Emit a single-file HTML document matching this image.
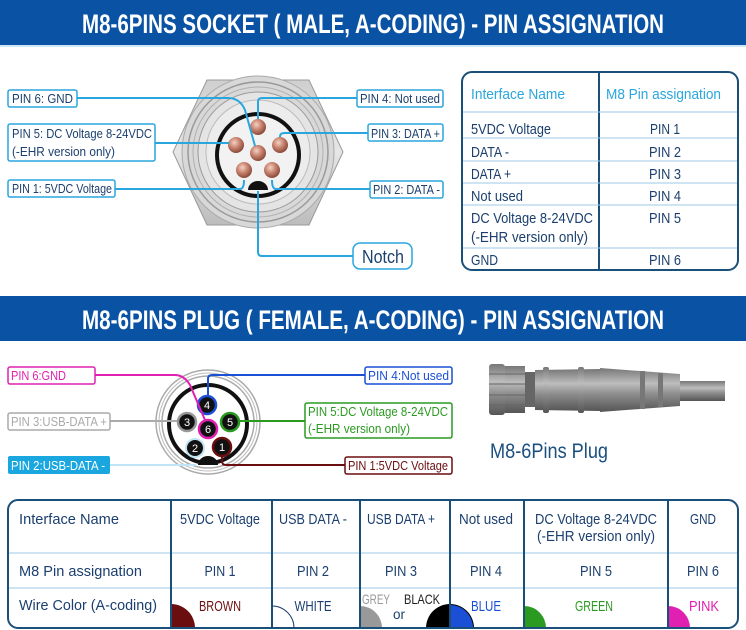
<!DOCTYPE html>
<html><head><meta charset="utf-8"><style>
html,body{margin:0;padding:0;background:#fff;}
svg{display:block;}
text{font-family:"Liberation Sans Narrow","Liberation Sans",sans-serif;}
</style></head><body>
<svg width="746" height="630" viewBox="0 0 746 630" xmlns="http://www.w3.org/2000/svg">
<defs>
<radialGradient id="pin" cx="40%" cy="35%" r="65%"><stop offset="0" stop-color="#f4d2c4"/><stop offset="0.5" stop-color="#c98470"/><stop offset="1" stop-color="#8a4a3a"/></radialGradient>
<linearGradient id="hexg" x1="0" y1="0" x2="0" y2="1"><stop offset="0" stop-color="#cfcfcf"/><stop offset="0.5" stop-color="#e6e6e6"/><stop offset="1" stop-color="#bcbcbc"/></linearGradient>
<linearGradient id="plg" x1="0" y1="0" x2="0" y2="1"><stop offset="0" stop-color="#777"/><stop offset="0.35" stop-color="#bdbdbd"/><stop offset="0.6" stop-color="#8c8c8c"/><stop offset="1" stop-color="#555"/></linearGradient>
<clipPath id="bt"><rect x="8" y="500" width="730" height="128" rx="10"/></clipPath>
<clipPath id="row3"><rect x="0" y="588" width="746" height="40"/></clipPath>
</defs>

<rect x="0" y="0" width="746" height="45" fill="#0a52a3"/>
<rect x="0" y="45" width="746" height="2" fill="#cfe6f5"/>
<text x="373" y="33" fill="#fff" font-size="27" font-weight="bold" text-anchor="middle" textLength="582" lengthAdjust="spacingAndGlyphs">M8-6PINS SOCKET ( MALE, A-CODING) - PIN ASSIGNATION</text>

<polygon points="207,80 309,80 343,152 309,225 207,225 173,152" fill="url(#hexg)" stroke="#999" stroke-width="1"/>
<circle cx="258" cy="152" r="76" fill="#d8d8d8" stroke="#aaa"/>
<circle cx="258" cy="152" r="70" fill="none" stroke="#9a9a9a" stroke-width="1.5"/>
<circle cx="258" cy="152" r="65" fill="none" stroke="#b0b0b0" stroke-width="1"/>
<circle cx="258" cy="152" r="60" fill="#e4e4e4" stroke="#999" stroke-width="1"/>
<circle cx="258" cy="152" r="52" fill="#ececec" stroke="#bbb"/>
<circle cx="258" cy="155" r="41" fill="#f2f2f2" stroke="#111" stroke-width="4"/>
<path d="M248,190 A10,9 0 0 1 268,190 Z" fill="#111"/>
<circle cx="258" cy="127" r="8" fill="url(#pin)"/>
<circle cx="236" cy="145" r="8" fill="url(#pin)"/>
<circle cx="280" cy="145" r="8" fill="url(#pin)"/>
<circle cx="258" cy="153" r="8" fill="url(#pin)"/>
<circle cx="244" cy="170" r="8" fill="url(#pin)"/>
<circle cx="272" cy="170" r="8" fill="url(#pin)"/>

<g fill="none" stroke="#2aa6de" stroke-width="2">
<path d="M77,98 H228 Q240,98 245,110 L255,146"/>
<path d="M155,143 H229"/>
<path d="M115,189 H240 Q244,189 244,180"/>
<path d="M357,98 H262 Q258,98 258,102 V119"/>
<path d="M368,133 H284 Q280,133 280,137"/>
<path d="M370,189 H276 Q272,189 272,180"/>
<path d="M353,256 H262 Q258,256 258,252 V191"/>
</g>
<g fill="#fff" stroke="#2aa6de" stroke-width="1.5">
<rect x="8" y="90" width="69" height="17" rx="2"/>
<rect x="8" y="124" width="147" height="37" rx="2"/>
<rect x="8" y="180" width="107" height="17" rx="2"/>
<rect x="357" y="90" width="86" height="17" rx="2"/>
<rect x="368" y="124" width="75" height="17" rx="2"/>
<rect x="370" y="181" width="73" height="17" rx="2"/>
<rect x="353" y="243" width="59" height="26" rx="7"/>
</g>
<g fill="#1b3f6e" font-size="13">
<text x="12" y="103" textLength="61" lengthAdjust="spacingAndGlyphs">PIN 6: GND</text>
<text x="12" y="138" textLength="140" lengthAdjust="spacingAndGlyphs">PIN 5: DC Voltage 8-24VDC</text>
<text x="12" y="156" textLength="103" lengthAdjust="spacingAndGlyphs">(-EHR version only)</text>
<text x="12" y="193" textLength="100" lengthAdjust="spacingAndGlyphs">PIN 1: 5VDC Voltage</text>
<text x="360" y="103" textLength="80" lengthAdjust="spacingAndGlyphs">PIN 4: Not used</text>
<text x="371" y="138" textLength="69" lengthAdjust="spacingAndGlyphs">PIN 3: DATA +</text>
<text x="373" y="194" textLength="67" lengthAdjust="spacingAndGlyphs">PIN 2: DATA -</text>
<text x="362" y="263" font-size="18" textLength="42" lengthAdjust="spacingAndGlyphs">Notch</text>
</g>

<rect x="462" y="72" width="276" height="198" rx="10" fill="#fff" stroke="#1a4f7a" stroke-width="2"/>
<line x1="599" y1="72" x2="599" y2="270" stroke="#1a4f7a" stroke-width="2"/>
<g stroke="#9cc8e6" stroke-width="1">
<line x1="463" y1="112" x2="737" y2="112"/>
<line x1="463" y1="138" x2="737" y2="138"/>
<line x1="463" y1="161" x2="737" y2="161"/>
<line x1="463" y1="183" x2="737" y2="183"/>
<line x1="463" y1="205" x2="737" y2="205"/>
<line x1="463" y1="248" x2="737" y2="248"/>
</g>
<g font-size="15" fill="#2aa6de">
<text x="471" y="99" textLength="94" lengthAdjust="spacingAndGlyphs">Interface Name</text>
<text x="606" y="99" textLength="115" lengthAdjust="spacingAndGlyphs">M8 Pin assignation</text>
</g>
<g font-size="15" fill="#1b3f6e">
<text x="471" y="134" textLength="80" lengthAdjust="spacingAndGlyphs">5VDC Voltage</text>
<text x="471" y="157" textLength="38" lengthAdjust="spacingAndGlyphs">DATA -</text>
<text x="471" y="179" textLength="40" lengthAdjust="spacingAndGlyphs">DATA +</text>
<text x="471" y="201" textLength="52" lengthAdjust="spacingAndGlyphs">Not used</text>
<text x="471" y="223" textLength="122" lengthAdjust="spacingAndGlyphs">DC Voltage 8-24VDC</text>
<text x="471" y="242" textLength="117" lengthAdjust="spacingAndGlyphs">(-EHR version only)</text>
<text x="471" y="265" textLength="27" lengthAdjust="spacingAndGlyphs">GND</text>
</g>
<g font-size="15" fill="#1b3f6e" text-anchor="middle">
<text x="665" y="134" textLength="30" lengthAdjust="spacingAndGlyphs">PIN 1</text>
<text x="665" y="157" textLength="32" lengthAdjust="spacingAndGlyphs">PIN 2</text>
<text x="665" y="179" textLength="32" lengthAdjust="spacingAndGlyphs">PIN 3</text>
<text x="665" y="201" textLength="32" lengthAdjust="spacingAndGlyphs">PIN 4</text>
<text x="665" y="223" textLength="32" lengthAdjust="spacingAndGlyphs">PIN 5</text>
<text x="665" y="265" textLength="32" lengthAdjust="spacingAndGlyphs">PIN 6</text>
</g>

<rect x="0" y="296" width="746" height="45" fill="#0a52a3"/>
<text x="373" y="329" fill="#fff" font-size="27" font-weight="bold" text-anchor="middle" textLength="582" lengthAdjust="spacingAndGlyphs">M8-6PINS PLUG ( FEMALE, A-CODING) - PIN ASSIGNATION</text>

<circle cx="208" cy="422" r="52" fill="#fff" stroke="#aaa" stroke-width="1.5"/>
<circle cx="208" cy="422" r="49" fill="none" stroke="#bbb" stroke-width="1"/>
<circle cx="208" cy="422" r="46" fill="none" stroke="#aaa" stroke-width="1.5"/>
<circle cx="208" cy="424" r="39" fill="#fff" stroke="#111" stroke-width="4"/>
<path d="M198,465 A10,9 0 0 1 218,465 Z" fill="#111"/>
<g font-size="11" fill="#fff" text-anchor="middle">
<circle cx="207" cy="405" r="9" fill="#111" stroke="#1a4fd6" stroke-width="2.5"/><text x="207" y="409">4</text>
<circle cx="187" cy="422" r="9" fill="#111" stroke="#999" stroke-width="2.5"/><text x="187" y="426">3</text>
<circle cx="208" cy="429" r="9" fill="#111" stroke="#e020b0" stroke-width="2.5"/><text x="208" y="433">6</text>
<circle cx="230" cy="422" r="9" fill="#111" stroke="#2a9a20" stroke-width="2.5"/><text x="230" y="426">5</text>
<circle cx="195" cy="448" r="9" fill="#111" stroke="#bfe4f5" stroke-width="2"/><text x="195" y="452">2</text>
<circle cx="222" cy="447" r="9" fill="#111" stroke="#6b0e10" stroke-width="2.5"/><text x="222" y="451">1</text>
</g>
<g fill="none" stroke-width="2">
<path d="M95,375 H175 Q184,375 190,385 L205,420" stroke="#e020b0"/>
<path d="M365,375 H212 Q208,375 208,379 V395" stroke="#1a4fd6"/>
<path d="M110,421 H177" stroke="#aaa"/>
<path d="M305,421 H240" stroke="#2a9a20"/>
<path d="M110,465 H196" stroke="#bfe4f5"/>
<path d="M345,465 H226 Q222,465 222,461 V456" stroke="#6b0e10"/>
</g>
<rect x="8" y="367" width="87" height="17" rx="2" fill="#fff" stroke="#e020b0" stroke-width="1.5"/>
<text x="11" y="380" font-size="13" fill="#e020b0" textLength="55" lengthAdjust="spacingAndGlyphs">PIN 6:GND</text>
<rect x="365" y="367" width="87" height="17" rx="2" fill="#fff" stroke="#1a4fd6" stroke-width="1.5"/>
<text x="368" y="380" font-size="13" fill="#1a4fd6" textLength="81" lengthAdjust="spacingAndGlyphs">PIN 4:Not used</text>
<rect x="8" y="413" width="102" height="17" rx="2" fill="#fff" stroke="#aaa" stroke-width="1.5"/>
<text x="11" y="426" font-size="13" fill="#aaa" textLength="96" lengthAdjust="spacingAndGlyphs">PIN 3:USB-DATA +</text>
<rect x="305" y="403" width="147" height="35" rx="2" fill="#fff" stroke="#2a9a20" stroke-width="1.5"/>
<text x="308" y="416" font-size="13" fill="#2a9a20" textLength="140" lengthAdjust="spacingAndGlyphs">PIN 5:DC Voltage 8-24VDC</text>
<text x="308" y="433" font-size="13" fill="#2a9a20" textLength="102" lengthAdjust="spacingAndGlyphs">(-EHR version only)</text>
<rect x="8" y="456" width="102" height="18" rx="2" fill="#1aa7e0"/>
<text x="11" y="470" font-size="13" fill="#fff" textLength="94" lengthAdjust="spacingAndGlyphs">PIN 2:USB-DATA -</text>
<rect x="345" y="457" width="107" height="17" rx="2" fill="#fff" stroke="#6b0e10" stroke-width="1.5"/>
<text x="348" y="470" font-size="13" fill="#6b0e10" textLength="100" lengthAdjust="spacingAndGlyphs">PIN 1:5VDC Voltage</text>

<g>
<rect x="489" y="364" width="16" height="51" rx="3" fill="url(#plg)"/>
<rect x="505" y="366" width="20" height="47" fill="url(#plg)"/>
<g stroke="#666" stroke-width="1"><line x1="489" y1="374" x2="525" y2="374"/><line x1="489" y1="384" x2="525" y2="384"/><line x1="489" y1="395" x2="525" y2="395"/><line x1="489" y1="405" x2="525" y2="405"/></g>
<rect x="525" y="372" width="10" height="35" fill="#666"/>
<polygon points="535,370 600,369 600,411 535,410" fill="url(#plg)"/>
<rect x="543" y="367" width="6" height="46" rx="2" fill="url(#plg)"/>
<rect x="578" y="367" width="6" height="46" rx="2" fill="url(#plg)"/>
<polygon points="600,368 640,371 680,374 680,406 640,409 600,412" fill="url(#plg)"/>
<rect x="640" y="371" width="5" height="38" fill="#777"/>
<rect x="658" y="373" width="5" height="34" fill="#777"/>
<rect x="680" y="381" width="45" height="20" fill="url(#plg)"/>
</g>
<text x="490" y="458" font-size="21" fill="#1b4f7e" textLength="118" lengthAdjust="spacingAndGlyphs">M8-6Pins Plug</text>

<g clip-path="url(#bt)">
<rect x="8" y="500" width="730" height="128" fill="#fff"/>
<g clip-path="url(#row3)">
<circle cx="171" cy="628" r="24" fill="#6b0e10"/>
<circle cx="272" cy="628" r="22" fill="none" stroke="#1b3f6e" stroke-width="1"/>
<circle cx="360" cy="628" r="22" fill="#999"/>
<circle cx="450" cy="628" r="24" fill="#000"/>
<circle cx="450" cy="628" r="23" fill="#1a4fd6" clip-path="url(#none)"/>
<circle cx="524" cy="628" r="22" fill="#2a9a20"/>
<circle cx="668" cy="628" r="22" fill="#e020b0"/>
</g>
<rect x="8" y="588" width="163" height="40" fill="#fff"/>
<rect x="272" y="588" width="0" height="0"/>
<rect x="380" y="600" width="2" height="0"/>
<rect x="426" y="603" width="24" height="25" fill="#fff"/>
<path d="M450,604 A24,24 0 0 0 426,628 L450,628 Z" fill="#000"/>
<rect x="246" y="588" width="26" height="40" fill="#fff"/>
<rect x="334" y="588" width="26" height="40" fill="#fff"/>
<rect x="498" y="588" width="26" height="40" fill="#fff"/>
<rect x="642" y="588" width="26" height="40" fill="#fff"/>
</g>
<rect x="8" y="500" width="730" height="128" rx="10" fill="none" stroke="#1a4f7a" stroke-width="2"/>
<g stroke="#9cc8e6" stroke-width="1">
<line x1="9" y1="553" x2="737" y2="553"/>
<line x1="9" y1="588" x2="737" y2="588"/>
</g>
<g stroke="#1a4f7a" stroke-width="2">
<line x1="171" y1="500" x2="171" y2="628"/>
<line x1="272" y1="500" x2="272" y2="628"/>
<line x1="360" y1="500" x2="360" y2="628"/>
<line x1="450" y1="500" x2="450" y2="628"/>
<line x1="524" y1="500" x2="524" y2="628"/>
<line x1="668" y1="500" x2="668" y2="628"/>
</g>
<g font-size="15" fill="#1b3f6e">
<text x="19" y="524" textLength="100" lengthAdjust="spacingAndGlyphs">Interface Name</text>
<text x="19" y="576" textLength="123" lengthAdjust="spacingAndGlyphs">M8 Pin assignation</text>
<text x="19" y="610" textLength="138" lengthAdjust="spacingAndGlyphs">Wire Color (A-coding)</text>
</g>
<g font-size="15" fill="#1b3f6e" text-anchor="middle">
<text x="220" y="524" textLength="80" lengthAdjust="spacingAndGlyphs">5VDC Voltage</text>
<text x="313" y="524" textLength="68" lengthAdjust="spacingAndGlyphs">USB DATA -</text>
<text x="401" y="524" textLength="68" lengthAdjust="spacingAndGlyphs">USB DATA +</text>
<text x="486" y="524" textLength="54" lengthAdjust="spacingAndGlyphs">Not used</text>
<text x="596" y="524" textLength="122" lengthAdjust="spacingAndGlyphs">DC Voltage 8-24VDC</text>
<text x="596" y="541" textLength="118" lengthAdjust="spacingAndGlyphs">(-EHR version only)</text>
<text x="703" y="524" textLength="26" lengthAdjust="spacingAndGlyphs">GND</text>
<text x="220" y="576" textLength="31" lengthAdjust="spacingAndGlyphs">PIN 1</text>
<text x="313" y="576" textLength="32" lengthAdjust="spacingAndGlyphs">PIN 2</text>
<text x="401" y="576" textLength="32" lengthAdjust="spacingAndGlyphs">PIN 3</text>
<text x="486" y="576" textLength="32" lengthAdjust="spacingAndGlyphs">PIN 4</text>
<text x="596" y="576" textLength="32" lengthAdjust="spacingAndGlyphs">PIN 5</text>
<text x="703" y="576" textLength="32" lengthAdjust="spacingAndGlyphs">PIN 6</text>
<text x="220" y="611" fill="#6b0e10" textLength="42" lengthAdjust="spacingAndGlyphs">BROWN</text>
<text x="313" y="611" textLength="37" lengthAdjust="spacingAndGlyphs">WHITE</text>
<text x="376" y="604" fill="#999" font-size="14" textLength="28" lengthAdjust="spacingAndGlyphs">GREY</text>
<text x="422" y="604" fill="#222" font-size="14" textLength="36" lengthAdjust="spacingAndGlyphs">BLACK</text>
<text x="399" y="619" fill="#1b3f6e" font-size="14" textLength="12" lengthAdjust="spacingAndGlyphs">or</text>
<text x="486" y="611" fill="#1a4fd6" textLength="30" lengthAdjust="spacingAndGlyphs">BLUE</text>
<text x="594" y="611" fill="#2a9a20" textLength="38" lengthAdjust="spacingAndGlyphs">GREEN</text>
<text x="704" y="611" fill="#e020b0" textLength="30" lengthAdjust="spacingAndGlyphs">PINK</text>
</g>
</svg>
</body></html>
